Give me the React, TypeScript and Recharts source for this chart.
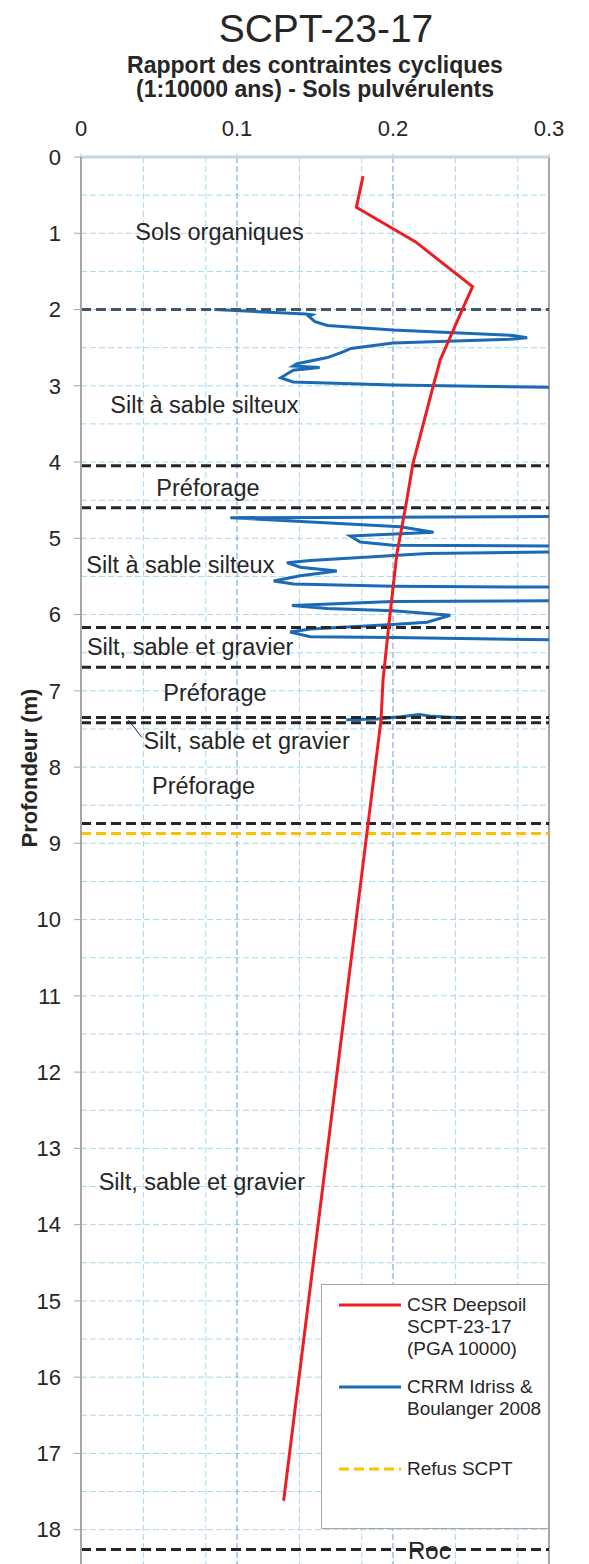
import { CartesianGrid, Line, LineChart, ReferenceDot, ReferenceLine, XAxis, YAxis } from 'recharts';

const FONT = '"Liberation Sans", Arial, sans-serif';
const TEXT = '#262626';

// axes
const RATIO_TICKS = [0, 0.1, 0.2, 0.3];
const DEPTH_TICKS = [0, 1, 2, 3, 4, 5, 6, 7, 8, 9, 10, 11, 12, 13, 14, 15, 16, 17, 18];
const GRID_RATIO_MINOR = [0.02, 0.04, 0.06, 0.08, 0.12, 0.14, 0.16, 0.18, 0.22, 0.24, 0.26, 0.28];
const GRID_RATIO_MAJOR = [0.1, 0.2];
const GRID_DEPTH = [
    0.5, 1, 1.5, 2, 2.5, 3, 3.5, 4, 4.5, 5, 5.5, 6, 6.5, 7, 7.5, 8, 8.5, 9,
    9.5, 10, 10.5, 11, 11.5, 12, 12.5, 13, 13.5, 14, 14.5, 15, 15.5, 16, 16.5, 17, 17.5, 18,
];

// CSR Deepsoil (PGA 10000)
const csrDepth = [0.25, 0.66, 1.11, 1.7, 2.0, 2.66, 3.0, 4.02, 4.6, 5.2, 6.16, 6.86, 7.39, 7.6, 17.62];
const csrValue = [0.1808, 0.1765, 0.2143, 0.251, 0.2444, 0.2303, 0.2258, 0.2128, 0.208, 0.2025, 0.1972, 0.1936, 0.1923, 0.191, 0.1299];

// CRRM Idriss & Boulanger 2008 (values past 0.3 run off the plot)
const crrDepth = [
    2.0, 2.06, 2.07, 2.09, 2.16, 2.21, 2.27, 2.34, 2.37, 2.39, 2.44, 2.51, 2.555, 2.63, 2.71, 2.74, 2.76, 2.795, 2.895, 2.95, 2.99, 3.02, 3.03,
    4.7, 4.715, 4.73, 4.85, 4.92, 4.94, 4.97, 5.05, 5.09, 5.1, 5.11,
    5.17, 5.18, 5.2, 5.29, 5.32, 5.38, 5.43, 5.49, 5.56, 5.6, 5.63, 5.64, 5.65,
    5.81, 5.82, 5.83, 5.88, 5.92, 5.95, 6.01, 6.1, 6.13, 6.19, 6.23, 6.29, 6.3, 6.33, 6.34,
];
const crrValue = [
    0.0855, 0.144, 0.148, 0.146, 0.15, 0.158, 0.2, 0.277, 0.286, 0.275, 0.2, 0.173, 0.168, 0.158, 0.1385, 0.136, 0.153, 0.136, 0.128, 0.136, 0.2, 0.3, 0.4,
    0.4, 0.3, 0.0957, 0.2047, 0.226, 0.2047, 0.1726, 0.179, 0.2, 0.3, 0.4,
    0.4, 0.3, 0.222, 0.147, 0.132, 0.1406, 0.164, 0.1406, 0.1235, 0.1363, 0.2, 0.3, 0.4,
    0.4, 0.3, 0.2, 0.1352, 0.1577, 0.2, 0.2367, 0.2218, 0.2, 0.147, 0.134, 0.147, 0.2, 0.3, 0.4,
];
// thin silt lens between the two pre-drilled sections
const crrLensDepth = [7.355, 7.335, 7.31, 7.34, 7.37, 7.38];
const crrLensValue = [0.245, 0.225, 0.217, 0.205, 0.19, 0.17];

// stratigraphy
const WATER_DEPTH = 2.0;
const LAYER_DEPTHS = [4.05, 4.6, 6.17, 6.69, 7.35, 7.42, 8.74, 18.26];
const REFUS_DEPTH = 8.87;
const ROC_DEPTH = 18.27;

const SOIL_LABELS = [
    { text: 'Sols organiques', ratio: 0.0348, depth: 0.98 },
    { text: 'Silt à sable silteux', ratio: 0.0188, depth: 3.25 },
    { text: 'Préforage', ratio: 0.0483, depth: 4.34 },
    { text: 'Silt à sable silteux', ratio: 0.0034, depth: 5.35 },
    { text: 'Silt, sable et gravier', ratio: 0.0038, depth: 6.42 },
    { text: 'Préforage', ratio: 0.0528, depth: 7.02 },
    { text: 'Silt, sable et gravier', ratio: 0.04, depth: 7.66 },
    { text: 'Préforage', ratio: 0.0455, depth: 8.24 },
    { text: 'Silt, sable et gravier', ratio: 0.0113, depth: 13.44 },
];

const RED = '#ee1d23';
const BLUE = '#1a6ab5';
const YELLOW = '#ffc000';

const LEGEND = [
    { lines: ['CSR Deepsoil', 'SCPT-23-17', '(PGA 10000)'], color: RED, dashed: false, top: 9 },
    { lines: ['CRRM Idriss &', 'Boulanger 2008'], color: BLUE, dashed: false, top: 91 },
    { lines: ['Refus SCPT'], color: YELLOW, dashed: true, top: 173 },
];

const csr = csrDepth.map((depth, i) => ({ depth, value: csrValue[i] }));
const crr = crrDepth.map((depth, i) => ({ depth, value: crrValue[i] }));
const crrLens = crrLensDepth.map((depth, i) => ({ depth, value: crrLensValue[i] }));

function LegendBox() {
    return (
        <div style={{
            position: 'absolute', left: 321, top: 1284, width: 228, height: 245,
            boxSizing: 'border-box', border: '1.5px solid #a6a6a6', background: '#fff',
            fontFamily: FONT, fontSize: 19, color: TEXT,
        }}>
            {LEGEND.map((item, i) => (
                <div key={i} style={{ position: 'absolute', left: 0, top: item.top, width: '100%' }}>
                    <svg width={64} height={22} style={{ position: 'absolute', left: 16, top: 0 }}>
                        <line x1={1} y1={11} x2={63} y2={11} stroke={item.color} strokeWidth={3}
                            strokeDasharray={item.dashed ? '10 5' : undefined} />
                    </svg>
                    <div style={{ position: 'absolute', left: 85, top: 0, lineHeight: '22px', whiteSpace: 'nowrap' }}>
                        {item.lines.map((l, j) => <div key={j}>{l}</div>)}
                    </div>
                </div>
            ))}
        </div>
    );
}

export default function App() {
    return (
        <div style={{ position: 'absolute', left: 0, top: 0, width: 589, height: 1564, background: '#fff', overflow: 'hidden' }}>
            <div style={{ position: 'absolute', left: 326, top: 9, transform: 'translateX(-50%)', fontFamily: FONT, fontSize: 39, lineHeight: '39px', color: TEXT, whiteSpace: 'nowrap' }}>
                SCPT-23-17
            </div>
            <div style={{ position: 'absolute', left: 315, top: 53, transform: 'translateX(-50%)', fontFamily: FONT, fontSize: 23, fontWeight: 'bold', lineHeight: '24px', color: TEXT, whiteSpace: 'nowrap', textAlign: 'center' }}>
                <div>Rapport des contraintes cycliques</div>
                <div>(1:10000 ans) - Sols pulvérulents</div>
            </div>

            <LineChart width={589} height={1564} layout="vertical" margin={{ top: 127, right: 40, bottom: 0, left: 0 }}>
                <CartesianGrid verticalValues={GRID_RATIO_MINOR} horizontalValues={GRID_DEPTH} stroke="#a8d8ee" strokeDasharray="6 3" />
                <CartesianGrid verticalValues={GRID_RATIO_MAJOR} horizontal={false} stroke="#6d9cd6" strokeDasharray="6 3" />
                <XAxis
                    type="number"
                    orientation="top"
                    domain={[0, 0.3]}
                    ticks={RATIO_TICKS}
                    allowDataOverflow
                    height={30}
                    tickSize={4}
                    tickMargin={17}
                    axisLine={{ stroke: '#c6d6df', strokeWidth: 3 }}
                    tickLine={{ stroke: '#a8d8ee' }}
                    tick={{ fontSize: 22, fill: TEXT, fontFamily: FONT }}
                />
                <YAxis
                    type="number"
                    dataKey="depth"
                    domain={[0, 18.45]}
                    allowDataOverflow
                    ticks={DEPTH_TICKS}
                    interval={0}
                    width={81}
                    tickSize={7}
                    tickMargin={13}
                    axisLine={{ stroke: '#a6a6a6', strokeWidth: 2 }}
                    tickLine={{ stroke: '#a6a6a6' }}
                    tick={{ fontSize: 22, fill: TEXT, fontFamily: FONT }}
                />
                <ReferenceLine x={0.3} stroke="#a6a6a6" strokeWidth={2} />

                <Line data={crr} dataKey="value" name="CRRM Idriss & Boulanger 2008" stroke={BLUE} strokeWidth={3} dot={false} isAnimationActive={false} />
                <Line data={crrLens} dataKey="value" name="CRRM Idriss & Boulanger 2008" stroke={BLUE} strokeWidth={3} dot={false} isAnimationActive={false} />

                <ReferenceLine y={WATER_DEPTH} stroke="#44546a" strokeWidth={3} strokeDasharray="10 5" />
                {LAYER_DEPTHS.map(d => (
                    <ReferenceLine key={d} y={d} stroke={TEXT} strokeWidth={3} strokeDasharray="10 5" />
                ))}
                <ReferenceLine y={REFUS_DEPTH} stroke={YELLOW} strokeWidth={3} strokeDasharray="10 5" />
                <ReferenceLine segment={[{ x: 0.0303, y: 7.38 }, { x: 0.039, y: 7.61 }]} stroke={TEXT} strokeWidth={1} />

                <Line data={csr} dataKey="value" name="CSR Deepsoil SCPT-23-17 (PGA 10000)" stroke={RED} strokeWidth={3} dot={false} isAnimationActive={false} />

                {SOIL_LABELS.map((s, i) => (
                    <ReferenceDot key={i} x={s.ratio} y={s.depth} r={0} fill="none" stroke="none"
                        label={{ value: s.text, position: 'right', offset: 0, fontSize: 23.5, fill: TEXT, fontFamily: FONT }} />
                ))}
                <ReferenceDot x={0.2233} y={ROC_DEPTH} r={0} fill="none" stroke="none"
                    label={{ value: 'Roc', position: 'center', fontSize: 24, fill: TEXT, fontFamily: FONT }} />
            </LineChart>

            <div style={{
                position: 'absolute', left: 30, top: 768, transform: 'translate(-50%, -50%) rotate(-90deg)',
                fontFamily: FONT, fontSize: 22, fontWeight: 'bold', color: TEXT, whiteSpace: 'nowrap',
            }}>
                Profondeur (m)
            </div>

            <LegendBox />
        </div>
    );
}
